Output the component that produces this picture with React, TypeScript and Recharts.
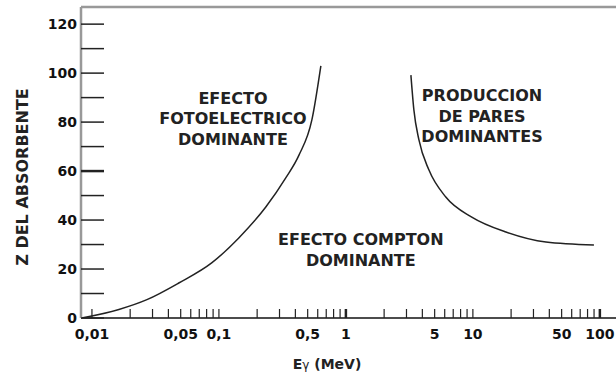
import { LineChart, Line, XAxis, YAxis, ReferenceDot, ReferenceLine } from "recharts";

// Photoelectric / Compton boundary (E in MeV, Z)
const fotoE = [0.0083, 0.0163, 0.0271, 0.0483, 0.0882, 0.144, 0.234, 0.337, 0.427, 0.54, 0.635];
const fotoZ = [0, 3.5, 7.5, 14.3, 22.6, 32.8, 45.3, 57.3, 66.5, 81, 103];

// Compton / pair production boundary
const paresE = [3.25, 3.43, 3.76, 4.51, 6.12, 9.8, 18.2, 37.6, 89.8];
const paresZ = [99.2, 85, 72.7, 60.4, 49.4, 41.2, 35.1, 31, 29.8];

const xTicks = [
  0.01, 0.02, 0.03, 0.04, 0.05, 0.06, 0.07, 0.08, 0.09,
  0.1, 0.2, 0.3, 0.4, 0.5, 0.6, 0.7, 0.8, 0.9,
  1, 2, 3, 4, 5, 6, 7, 8, 9,
  10, 20, 30, 40, 50, 60, 70, 80, 90, 100,
];
const xLabelValues = [0.01, 0.05, 0.1, 0.5, 1, 5, 10, 50, 100];
const xLabelTexts = ["0,01", "0,05", "0,1", "0,5", "1", "5", "10", "50", "100"];

const yTicks = [0, 10, 20, 30, 40, 50, 60, 70, 80, 90, 100, 110, 120];
const yLabelValues = [0, 20, 40, 60, 80, 100, 120];

const noteLines = [
  ["EFECTO", "FOTOELECTRICO", "DOMINANTE"],
  ["PRODUCCION", "DE PARES", "DOMINANTES"],
  ["EFECTO COMPTON", "DOMINANTE"],
];
const noteE = [0.129, 11.8, 1.31];
const noteZ = [81.4, 82.5, 27.8];

const FONT = "'DejaVu Sans', sans-serif";

const fotoData = fotoE.map((e, i) => ({ e, z: fotoZ[i] }));
const paresData = paresE.map((e, i) => ({ e, z: paresZ[i] }));

const XTick = (props: any) => {
  const { x, y, payload } = props;
  const i = xLabelValues.indexOf(payload.value);
  const major = payload.value === 1 || payload.value === 100;
  return (
    <g>
      <line x1={x} x2={x} y1={y} y2={y - 9} stroke="#222" strokeWidth={major ? 2.5 : 1.2} />
      {i >= 0 && (
        <text x={x} y={y + 21} textAnchor="middle" fontFamily={FONT} fontWeight="bold" fontSize={14} fill="#111">
          {xLabelTexts[i]}
        </text>
      )}
    </g>
  );
};

const YTick = (props: any) => {
  const { x, y, payload } = props;
  const labeled = yLabelValues.includes(payload.value);
  return (
    <g>
      <line x1={x} x2={x + 23} y1={y} y2={y} stroke="#222" strokeWidth={payload.value === 60 ? 2.5 : 1.5} />
      {labeled && (
        <text x={x - 4} y={y + 5} textAnchor="end" fontFamily={FONT} fontWeight="bold" fontSize={14} fill="#111">
          {payload.value}
        </text>
      )}
    </g>
  );
};

const noteLabel = (lines: string[]) => (props: any) => {
  const { viewBox } = props;
  const cx = viewBox.x + (viewBox.width || 0) / 2;
  const cy = viewBox.y + (viewBox.height || 0) / 2;
  const lh = 20.5;
  const start = cy - ((lines.length - 1) * lh) / 2;
  return (
    <text textAnchor="middle" fontFamily={FONT} fontWeight="bold" fontSize={16} fill="#222">
      {lines.map((l, i) => (
        <tspan key={i} x={cx} y={start + i * lh} dy="0.36em">
          {l}
        </tspan>
      ))}
    </text>
  );
};

const YTitle = () => (
  <text
    x={22}
    y={177}
    transform="rotate(-90 22 177)"
    textAnchor="middle"
    dominantBaseline="central"
    fontFamily={FONT}
    fontWeight="bold"
    fontSize={16}
    fill="#222"
  >
    Z DEL ABSORBENTE
  </text>
);

const XTitle = () => (
  <text x={327} y={369} textAnchor="middle" fontFamily={FONT} fontWeight="bold" fontSize={14} fill="#222">
    E
    <tspan fontWeight="normal" fontSize={12}>γ</tspan>
    <tspan> (MeV)</tspan>
  </text>
);

export default function App() {
  return (
    <div style={{ position: "absolute", left: 0, top: 0, width: 616, height: 381, background: "#fff" }}>
      <LineChart width={616} height={381} margin={{ top: 7, right: 0, left: 0, bottom: 0 }}>
        <XAxis
          dataKey="e"
          type="number"
          scale="log"
          domain={[0.0082, 134]}
          allowDataOverflow
          ticks={xTicks}
          interval={0}
          height={63}
          tickSize={0}
          tickMargin={0}
          tickLine={false}
          tick={<XTick />}
          axisLine={{ stroke: "#111", strokeWidth: 1.5 }}
          label={{ content: <XTitle /> }}
        />
        <YAxis
          dataKey="z"
          type="number"
          domain={[0, 127]}
          allowDataOverflow
          ticks={yTicks}
          interval={0}
          width={81}
          tickSize={0}
          tickMargin={0}
          tickLine={false}
          tick={<YTick />}
          axisLine={{ stroke: "#999", strokeWidth: 2.5 }}
          label={{ content: <YTitle /> }}
        />
        <ReferenceLine y={127} stroke="#999" strokeWidth={2.5} />
        <Line
          data={fotoData}
          dataKey="z"
          type="monotone"
          stroke="#222"
          strokeWidth={1.5}
          dot={false}
          isAnimationActive={false}
        />
        <Line
          data={paresData}
          dataKey="z"
          type="monotone"
          stroke="#222"
          strokeWidth={1.5}
          dot={false}
          isAnimationActive={false}
        />
        {noteLines.map((lines, i) => (
          <ReferenceDot
            key={i}
            x={noteE[i]}
            y={noteZ[i]}
            r={0}
            fill="none"
            stroke="none"
            label={{ content: noteLabel(lines) }}
          />
        ))}
      </LineChart>
    </div>
  );
}
